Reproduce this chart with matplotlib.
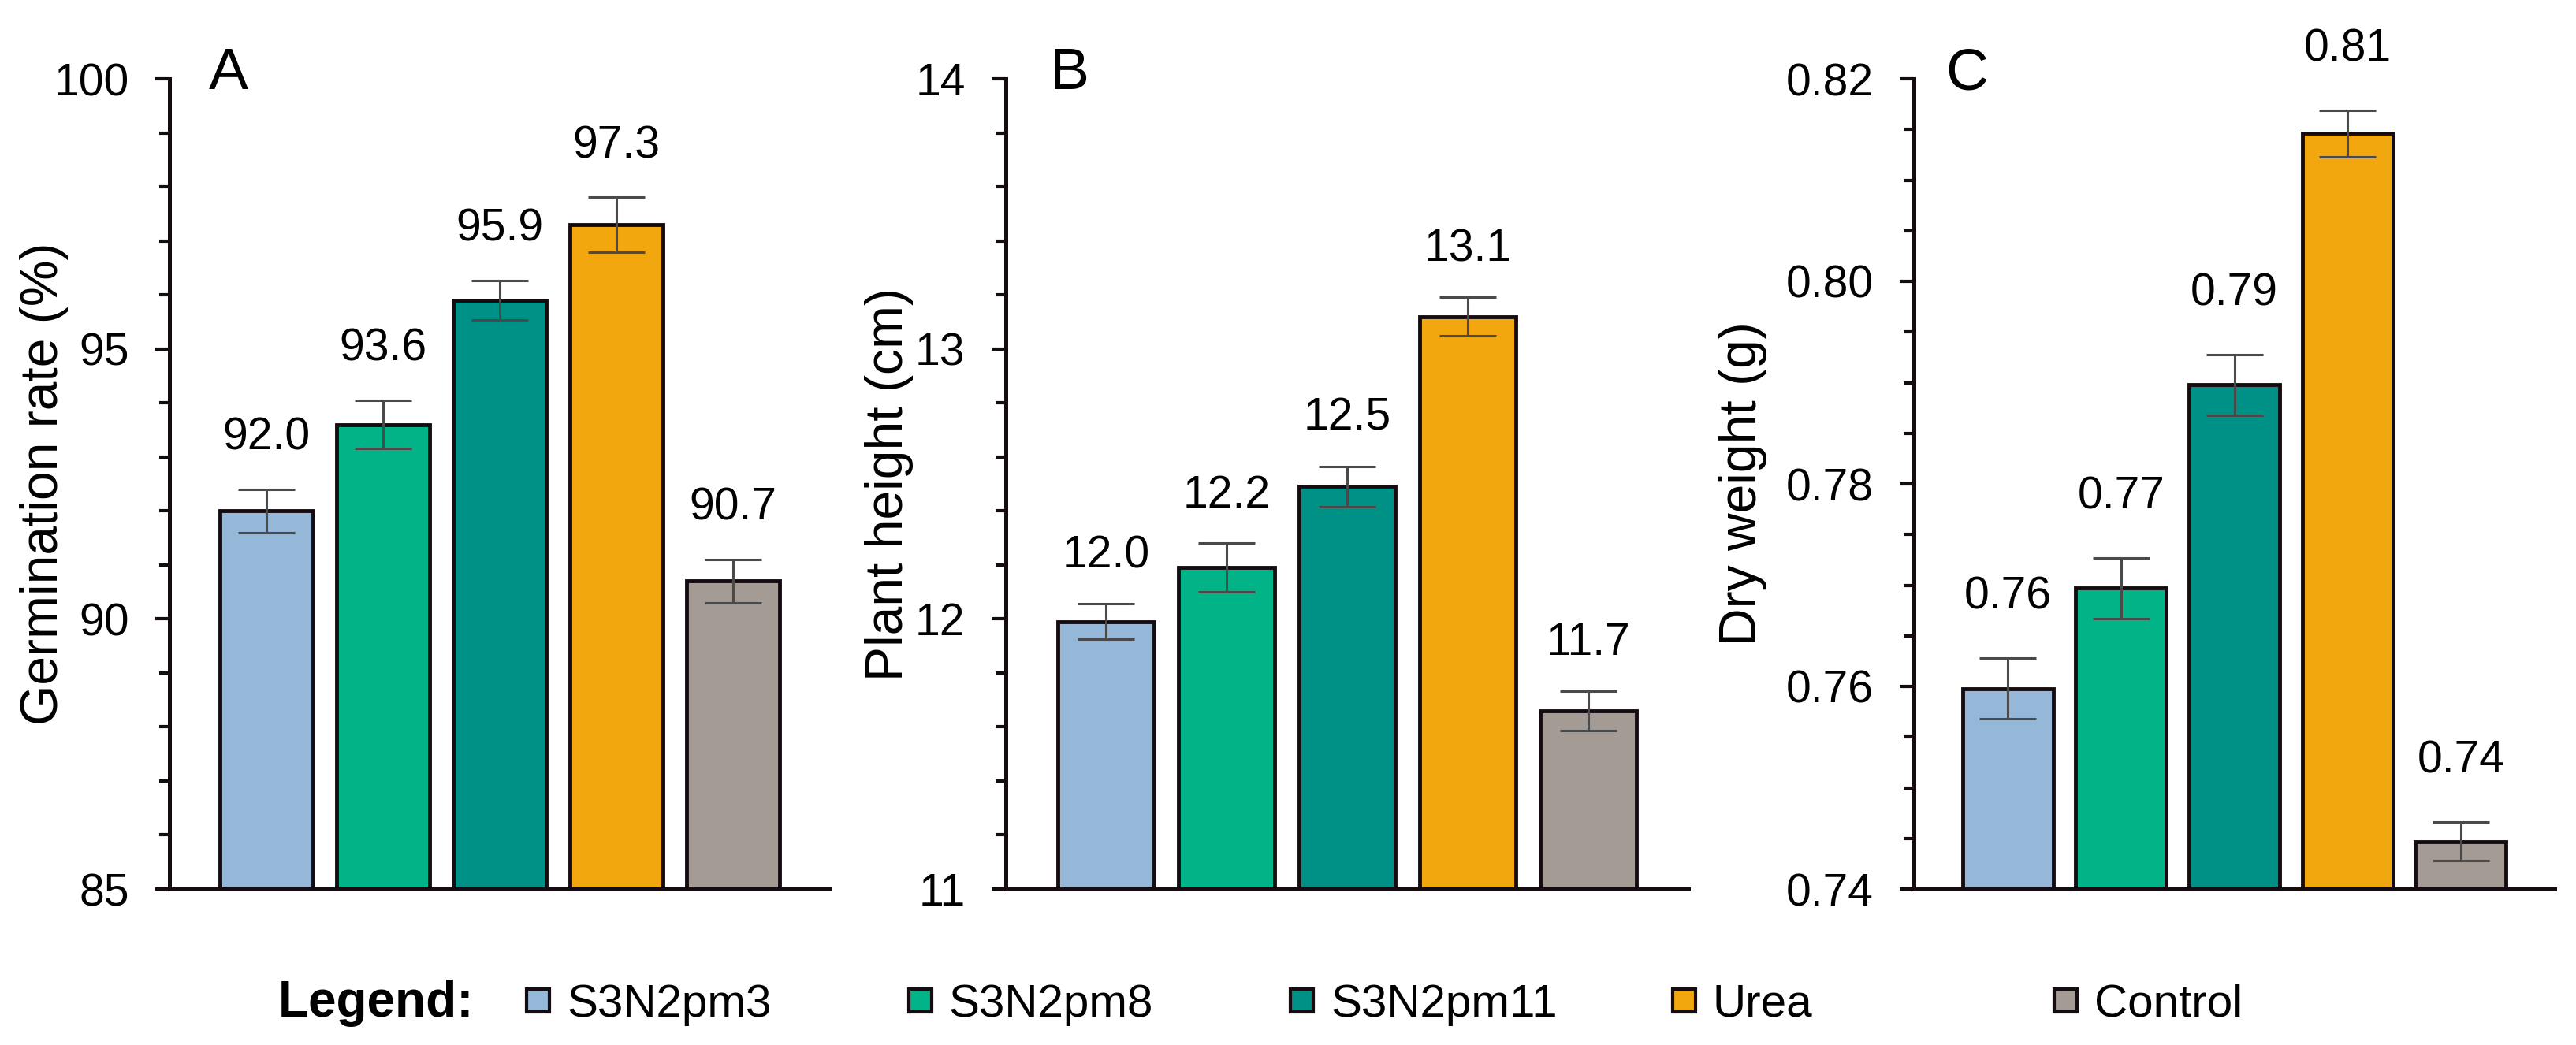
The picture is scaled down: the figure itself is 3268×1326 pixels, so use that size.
import numpy as np
import matplotlib.pyplot as plt
from matplotlib.ticker import MultipleLocator, FormatStrFormatter
from matplotlib.patches import Rectangle

plt.rcParams['font.family'] = ['Liberation Sans', 'DejaVu Sans']

# data
treatments = ['S3N2pm3', 'S3N2pm8', 'S3N2pm11', 'Urea', 'Control']
bar_colors = ['#95b8d9', '#00b487', '#009186', '#f3a70f', '#a39b94']

germ_rate = [92.0, 93.6, 95.9, 97.3, 90.7]
germ_err = [0.40, 0.45, 0.37, 0.51, 0.40]

plant_height = [11.99, 12.19, 12.49, 13.12, 11.66]
height_err = [0.065, 0.09, 0.075, 0.072, 0.073]

dry_weight = [0.7598, 0.7697, 0.7898, 0.8146, 0.7447]
weight_err = [0.003, 0.003, 0.003, 0.0023, 0.0019]

EDGE = '#140c10'
W, H = 3268, 1326

fig = plt.figure(figsize=(W / 100, H / 100), dpi=100)

bottom = 1 - 1128 / H
height = (1128 - 100) / H

# (axes rect, values, errors, ylim, major, minor, tick fmt, ylabel, letter, value fmt, label offset, ylabel x, letter x)
panels = [
    ([215 / W, bottom, 838 / W, height], germ_rate, germ_err, (85, 100), 5, 1, '%d',
     'Germination rate (%)', 'A', '{:.1f}', 36, -0.153, 0.06),
    ([1276 / W, bottom, 866 / W, height], plant_height, height_err, (11, 14), 1, 0.2, '%d',
     'Plant height (cm)', 'B', '{:.1f}', 33, -0.135, 0.065),
    ([2428 / W, bottom, 813 / W, height], dry_weight, weight_err, (0.74, 0.82), 0.02, 0.005, '%.2f',
     'Dry weight (g)', 'C', '{:.2f}', 45, -0.229, 0.05),
]

x = np.arange(len(treatments))
for rect, vals, errs, ylim, major, minor, tfmt, ylab, letter, vfmt, off, ylx, letx in panels:
    ax = fig.add_axes(rect)
    ax.bar(x, vals, width=0.8, color=bar_colors, edgecolor=EDGE, linewidth=3.5, zorder=2)
    ax.errorbar(x, vals, yerr=errs, fmt='none', ecolor='#4a4a4a', elinewidth=2.2,
                capsize=26, capthick=2.2, zorder=3)
    for xi, v, e in zip(x, vals, errs):
        ax.annotate(vfmt.format(v), (xi, v + e), xytext=(0, off), textcoords='offset points',
                    ha='center', va='baseline', fontsize=41)

    ax.set_xlim(-0.83, 4.83)
    ax.set_ylim(*ylim)
    ax.set_xticks([])
    ax.yaxis.set_major_locator(MultipleLocator(major))
    ax.yaxis.set_minor_locator(MultipleLocator(minor))
    ax.yaxis.set_major_formatter(FormatStrFormatter(tfmt))
    ax.tick_params(axis='y', which='major', length=13, width=3, color=EDGE, labelsize=41, pad=24)
    ax.tick_params(axis='y', which='minor', length=9.5, width=3, color=EDGE)
    for s in ['top', 'right']:
        ax.spines[s].set_visible(False)
    for s in ['left', 'bottom']:
        ax.spines[s].set_linewidth(3.6)
        ax.spines[s].set_color(EDGE)

    ax.set_ylabel(ylab, fontsize=47.5)
    ax.yaxis.set_label_coords(ylx, 0.5)
    ax.text(letx, 0.987, letter, transform=ax.transAxes, fontsize=54, ha='left', va='baseline')

# legend row
fig.text(353 / W, 1 - 1290 / H, 'Legend:', fontsize=46, fontweight='bold', ha='left', va='baseline')
sw = 29
for i, (name, c) in enumerate(zip(treatments, bar_colors)):
    x0 = 668 + 484.5 * i
    fig.add_artist(Rectangle((x0 / W, 1 - 1284 / H), sw / W, sw / H, transform=fig.transFigure,
                             facecolor=c, edgecolor=EDGE, linewidth=3))
    fig.text((x0 + sw + 22) / W, 1 - 1290 / H, name, fontsize=42, ha='left', va='baseline')

fig.savefig('out.png', dpi=100)
